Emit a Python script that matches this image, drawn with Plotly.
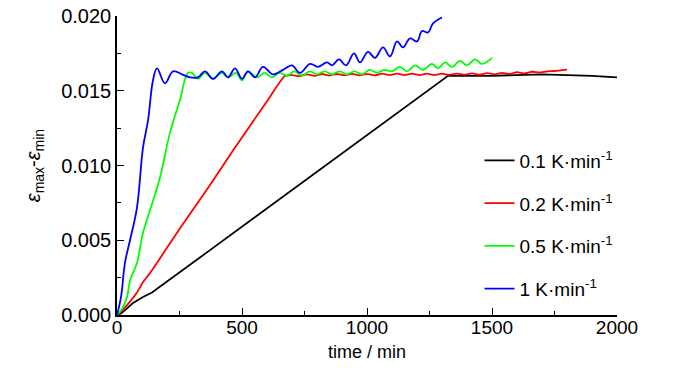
import plotly.graph_objects as go

# ---- data ----
black_x = [0, 16, 32, 64, 104, 140, 372, 732, 1000, 1324, 1500, 1700, 1900, 2000]
black_y = [0, 0.0001, 0.00033, 0.0008, 0.0012, 0.0015, 0.00434, 0.00875, 0.0120, 0.0160,
           0.0160, 0.0161, 0.0160, 0.0159]

red_x = [0, 20, 52, 80, 104, 132, 252, 372, 464, 600, 672,
         700, 730, 760, 790, 820, 850, 880, 910, 940, 970, 1000, 1030, 1060, 1090,
         1120, 1150, 1180, 1210, 1240, 1270, 1300, 1330, 1360, 1390, 1420, 1450,
         1480, 1510, 1540, 1570, 1600, 1630, 1660, 1690, 1720, 1750, 1800]
red_y = [0, 0.0003, 0.00089, 0.0015, 0.0022, 0.0028, 0.0058, 0.0087, 0.0110, 0.0143, 0.0160,
         0.01605, 0.01598, 0.01610, 0.01600, 0.01612, 0.01602, 0.01612, 0.01603, 0.01613,
         0.01603, 0.01613, 0.01603, 0.01614, 0.01604, 0.01614, 0.01604, 0.01614, 0.01605,
         0.01615, 0.01605, 0.01614, 0.01606, 0.01615, 0.01607, 0.01616, 0.01607, 0.01618,
         0.01610, 0.01620, 0.01612, 0.01624, 0.01616, 0.01627, 0.01622, 0.01630, 0.01632,
         0.01642]

green_x = [0, 20, 40, 52, 80, 104, 132, 172, 212, 252, 284, 300, 324, 352, 384, 420, 444,
           476, 500, 524, 560, 590, 620, 650, 680, 710, 740, 770, 800, 830, 860, 890, 920,
           950, 980, 1010, 1040, 1070, 1100, 1132, 1160, 1192, 1224, 1260, 1284, 1312,
           1340, 1372, 1400, 1432, 1460, 1500]
green_y = [0, 0.0004, 0.0012, 0.0023, 0.0035, 0.0055, 0.0070, 0.0092, 0.0122, 0.0144,
           0.0162, 0.0162, 0.0158, 0.0162, 0.0158, 0.0162, 0.0159, 0.0162, 0.0157, 0.0163,
           0.0159, 0.0162, 0.0159, 0.0162, 0.0160, 0.0163, 0.0160, 0.0163, 0.0161, 0.0163,
           0.0161, 0.0163, 0.0161, 0.0163, 0.0161, 0.0164, 0.0162, 0.0164, 0.0163, 0.0166,
           0.0163, 0.0167, 0.0164, 0.0168, 0.0165, 0.0169, 0.0166, 0.0170, 0.0167, 0.0171,
           0.0168, 0.0172]

blue_x = [0, 16, 32, 52, 80, 104, 124, 144, 160, 192, 224, 260, 292, 324, 352, 384, 420,
          444, 472, 500, 524, 552, 584, 624, 664, 700, 732, 772, 804, 840, 860, 888, 916,
          948, 972, 1004, 1032, 1064, 1092, 1120, 1144, 1172, 1200, 1220, 1244, 1264, 1300]
blue_y = [0, 0.0012, 0.0035, 0.0050, 0.0072, 0.0112, 0.0130, 0.0157, 0.0165, 0.0155,
          0.0163, 0.0161, 0.0159, 0.0159, 0.0163, 0.0158, 0.0163, 0.0159, 0.0165, 0.0158,
          0.0163, 0.0159, 0.0166, 0.0161, 0.0164, 0.0167, 0.0162, 0.0168, 0.0166, 0.0169,
          0.0167, 0.0171, 0.0167, 0.0175, 0.0169, 0.0176, 0.0172, 0.0179, 0.0173, 0.0183,
          0.0179, 0.0185, 0.0183, 0.0190, 0.0189, 0.0195, 0.0199]

series = [
    ("0.1 K·min<sup>-1</sup>", black_x, black_y, "#000000", "linear", 0),
    ("0.2 K·min<sup>-1</sup>", red_x, red_y, "#ff0000", "spline", 0.5),
    ("0.5 K·min<sup>-1</sup>", green_x, green_y, "#00ff00", "spline", 1.1),
    ("1 K·min<sup>-1</sup>", blue_x, blue_y, "#0000ff", "spline", 1.1),
]

FONT = "Liberation Sans, Arial, sans-serif"

fig = go.Figure()
for i, (name, xs, ys, col, shape, sm) in enumerate(series):
    line = dict(color=col, width=1.8, shape=shape)
    if shape == "spline":
        line["smoothing"] = sm
    fig.add_trace(go.Scatter(
        x=xs, y=ys, mode="lines", name=name, legendgroup=str(i), line=line,
    ))

fig.update_layout(
    width=700, height=374,
    margin=dict(l=117, r=83, t=16, b=59, autoexpand=False),
    paper_bgcolor="white", plot_bgcolor="white",
    font=dict(family=FONT, size=19, color="black"),
    showlegend=True,
    legend=dict(
        x=0.725, y=0.58, xanchor="left", yanchor="top",
        bgcolor="rgba(0,0,0,0)", font=dict(size=19),
        tracegroupgap=15, traceorder="grouped",
    ),
)

fig.update_xaxes(
    range=[0, 2000], dtick=500, tick0=0, automargin=False,
    showline=True, linecolor="black", linewidth=1.5, mirror=False,
    ticks="inside", ticklen=7, tickwidth=1.3, tickcolor="black",
    minor=dict(ticks="inside", dtick=250, ticklen=4, tickwidth=1.3, tickcolor="black"),
    showgrid=False, zeroline=False,
    tickfont=dict(size=19), ticklabelstandoff=-6,
    title=dict(text="time / min", font=dict(size=18), standoff=9),
)
fig.update_yaxes(
    range=[0, 0.020], dtick=0.005, tick0=0, tickformat=".3f", automargin=False,
    showline=True, linecolor="black", linewidth=1.5, mirror=False,
    ticks="inside", ticklen=7, tickwidth=1.3, tickcolor="black",
    minor=dict(ticks="inside", dtick=0.0025, ticklen=4, tickwidth=1.3, tickcolor="black"),
    showgrid=False, zeroline=False,
    tickfont=dict(size=20),
    title=dict(text="<i>ε</i><sub>max</sub>-<i>ε</i><sub>min</sub>", font=dict(size=20), standoff=15),
)

fig.write_html("out.html", config={"displayModeBar": False},
               post_script="document.body.style.margin='0';")
